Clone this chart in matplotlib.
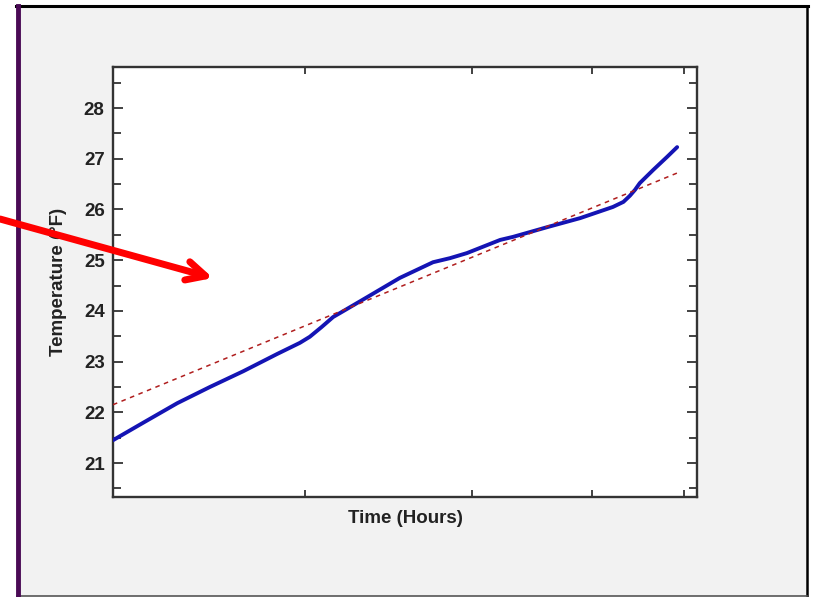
import numpy as np
import matplotlib.pyplot as plt
from matplotlib.patches import Rectangle
from matplotlib.ticker import MultipleLocator

plt.rcParams['font.family'] = ['Liberation Sans', 'DejaVu Sans']

# measured temperature record (hours, deg F)
hours = [0.0, 5.1, 11.0, 16.6, 22.3, 28.1, 32.0, 33.7, 35.7, 37.7, 38.9,
         43.5, 49.1, 54.8, 57.7, 60.6, 66.3, 68.5, 74.3, 80.0, 85.6, 87.4,
         88.5, 89.4, 90.2, 92.5, 94.9, 96.6]
temp_f = [21.45, 21.79, 22.18, 22.50, 22.81, 23.15, 23.37, 23.49, 23.68,
          23.88, 23.96, 24.27, 24.65, 24.96, 25.04, 25.14, 25.40, 25.46,
          25.65, 25.83, 26.05, 26.15, 26.27, 26.39, 26.52, 26.78, 27.04,
          27.23]

# linear trend fitted to the record
trend_intercept = 22.15
trend_slope = 0.0473

time_ticks = [32.9, 61.5, 82.0, 97.8]

W, H = 813, 597
fig = plt.figure(figsize=(W / 100, H / 100), dpi=100, facecolor='white')

# window panel behind the plot
fig.patches.append(Rectangle((17 / W, 1 / H), (807 - 17) / W, (591 - 1) / H,
                             transform=fig.transFigure, facecolor='#f2f2f2',
                             edgecolor='none', zorder=-2))
fig.lines.append(plt.Line2D([16 / W, 808 / W], [591 / H, 591 / H],
                            transform=fig.transFigure, color='black', lw=2.2,
                            zorder=-1))
fig.lines.append(plt.Line2D([807 / W, 807 / W], [1 / H, 591 / H],
                            transform=fig.transFigure, color='black', lw=1.8,
                            zorder=-1))
fig.lines.append(plt.Line2D([17 / W, 807 / W], [1 / H, 1 / H],
                            transform=fig.transFigure, color='#555555', lw=1.2,
                            zorder=-1))
fig.lines.append(plt.Line2D([18 / W, 18 / W], [1 / H, 591 / H],
                            transform=fig.transFigure, color='#4a0a55', lw=3.5,
                            zorder=-1))

ax = fig.add_axes([113 / W, (H - 497) / H, 584 / W, 430 / H])
ax.set_zorder(3)
ax.set_facecolor('white')

x = np.array(hours)
ax.plot(x, temp_f, color='#1414b4', lw=2.8, solid_capstyle='round',
        solid_joinstyle='round', zorder=3)

xt = np.array([x[0], x[-1]])
ax.plot(xt, trend_intercept + trend_slope * xt, color='#b01e1e', lw=1.1,
        ls=(0, (3, 3)), zorder=4)

ax.set_xlim(0, 100)
ax.set_ylim(20.33, 28.81)
ax.yaxis.set_major_locator(MultipleLocator(1))
ax.yaxis.set_minor_locator(MultipleLocator(0.5))
ax.set_xticks(time_ticks)
ax.set_xticklabels([])

ax.tick_params(axis='y', which='major', direction='in', length=7.5, width=1.3,
               left=True, right=True, labelsize=13.5, pad=6, colors='#333333',
               labelcolor='#222222')
ax.tick_params(axis='y', which='minor', direction='in', length=5.5, width=1.3,
               left=True, right=True, colors='#333333')
ax.tick_params(axis='x', which='major', direction='in', length=5, width=1.3,
               bottom=True, top=True, colors='#333333')
for lab in ax.get_yticklabels():
    lab.set_fontweight('bold')

for sp in ax.spines.values():
    sp.set_linewidth(1.7)
    sp.set_color('#333333')

ax.set_xlabel('Time (Hours)', fontsize=13.5, fontweight='bold',
              color='#222222', labelpad=6)
ax.set_ylabel('Temperature (°F)', fontsize=13.5, fontweight='bold',
              color='#222222', labelpad=12)

# pointer arrow
ax.annotate('', xy=(213, H - 278), xytext=(0, H - 219),
            xycoords='figure pixels', textcoords='figure pixels',
            annotation_clip=False,
            arrowprops=dict(arrowstyle='->', color='#ff0000', lw=5,
                            mutation_scale=34, shrinkA=0, shrinkB=0))

fig.savefig('out.png', dpi=100, facecolor='white')
